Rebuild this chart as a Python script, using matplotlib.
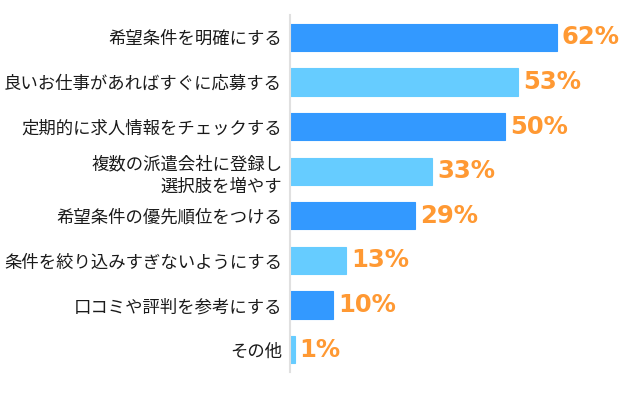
import numpy as np
import matplotlib
matplotlib.use('Agg')
import matplotlib.pyplot as plt

plt.rcParams['font.family'] = ['Noto Sans CJK JP', 'DejaVu Sans']

# Datos
categorias = ['希望条件を明確にする',
              '良いお仕事があればすぐに応募する',
              '定期的に求人情報をチェックする',
              '複数の派遣会社に登録し\n選択肢を増やす',
              '希望条件の優先順位をつける',
              '条件を絞り込みすぎないようにする',
              '口コミや評判を参考にする',
              'その他']
valores = [62, 53, 50, 33, 29, 13, 10, 1]

azul_oscuro = '#3399FF'
azul_claro = '#66CCFF'
naranja = '#FF9933'

fig = plt.figure(figsize=(6.38, 3.95), dpi=100)
ax = fig.add_axes([0.4553, 0.0582, 0.539, 0.9038])

y = np.arange(len(categorias))
colores = [azul_oscuro if i % 2 == 0 else azul_claro for i in range(len(categorias))]
ax.barh(y, valores, height=0.61, color=colores, edgecolor=colores, linewidth=0.8)

for yi, v in zip(y, valores):
    ax.text(v + 1.1, yi, str(v) + '%', va='center', ha='left',
            color=naranja, fontsize=17.5, fontweight='bold', family='DejaVu Sans')

ax.set_xlim(0, 80)
ax.set_ylim(len(categorias) - 0.5, -0.5)
ax.set_yticks(y)
ax.set_yticklabels(categorias, fontsize=12.5, color='#1a1a1a', linespacing=1.3)
ax.tick_params(axis='y', length=0, pad=6)
ax.set_xticks([])

for s in ['top', 'right', 'bottom']:
    ax.spines[s].set_visible(False)
ax.spines['left'].set_color('#E0E0E0')
ax.spines['left'].set_linewidth(1.5)

fig.savefig('out.png', dpi=100)
